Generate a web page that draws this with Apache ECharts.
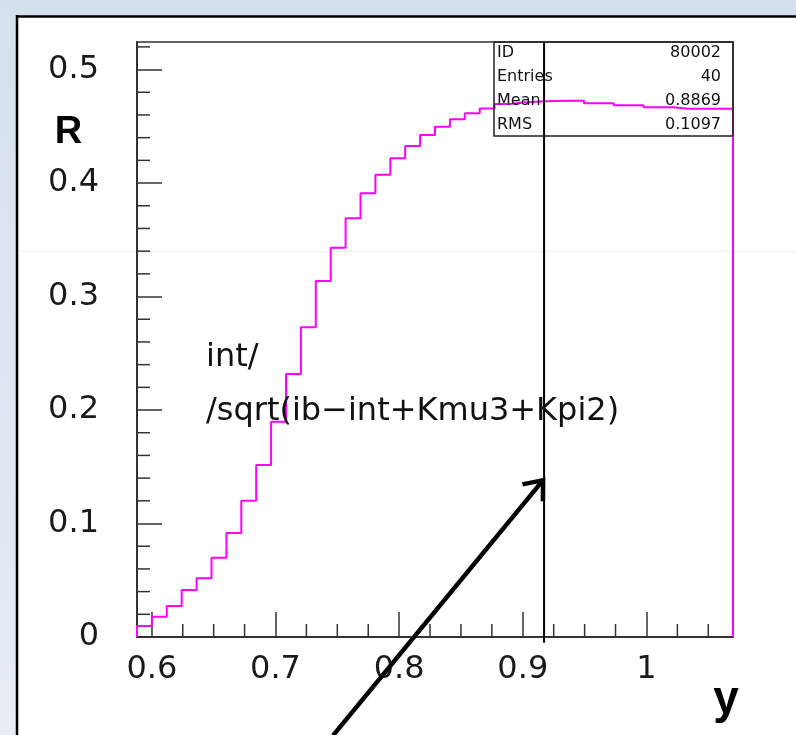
<!DOCTYPE html>
<html><head><meta charset="utf-8">
<script src="https://cdn.jsdelivr.net/npm/echarts@6/dist/echarts.min.js"></script>
<style>html,body{margin:0;padding:0;background:#fff;}#c{width:796px;height:735px;}</style>
</head><body><div id="c"></div>
<script>
// ---- data ----
const xLo = 0.588, xHi = 1.07;
const binValues = [
  0.0097, 0.0179, 0.0273, 0.0414, 0.0517, 0.0699, 0.0916, 0.1201, 0.1516, 0.1897,
  0.2317, 0.2729, 0.3137, 0.3430, 0.3689, 0.3910, 0.4073, 0.4218, 0.4326, 0.4423,
  0.4496, 0.4562, 0.4615, 0.4658, 0.4697, 0.4710, 0.4718, 0.4723, 0.4726, 0.4726,
  0.4703, 0.4703, 0.4685, 0.4685, 0.4667, 0.4667, 0.4655, 0.4655, 0.4655, 0.4655
];
const yMin = 0, yMax = 0.5243;
const xMajorTicks = [0.6, 0.7, 0.8, 0.9, 1.0];
const xTickLabels = ['0.6', '0.7', '0.8', '0.9', '1'];
const xMinorTicks = [0.625, 0.65, 0.675, 0.725, 0.75, 0.775, 0.825, 0.85, 0.875, 0.925, 0.95, 0.975, 1.025, 1.05];
const yMajorTicks = [0, 0.1, 0.2, 0.3, 0.4, 0.5];
const yTickLabels = ['0', '0.1', '0.2', '0.3', '0.4', '0.5'];
const yMinorTicks = [0.02, 0.04, 0.06, 0.08, 0.12, 0.14, 0.16, 0.18, 0.22, 0.24, 0.26, 0.28,
  0.32, 0.34, 0.36, 0.38, 0.42, 0.44, 0.46, 0.48, 0.52];
const cutValue = 0.9172;
const cutBottom = -0.005;
const arrowTail = [0.7466, -0.0867];
const arrowHead = [0.9164, 0.1382];
const statNames = ['ID', 'Entries', 'Mean', 'RMS'];
const statValues = ['80002', '40', '0.8869', '0.1097'];
const noteLines = ['int/', '/sqrt(ib\u2212int+Kmu3+Kpi2)'];
const yTitle = 'R', xTitle = 'y';

// ---- build ----
const binW = (xHi - xLo) / binValues.length;
const histPoints = [[xLo, 0]];
binValues.forEach((v, i) => histPoints.push([xLo + i * binW, v]));
histPoints.push([xHi, binValues[binValues.length - 1]]);
histPoints.push([xHi, 0]);

function lookup(ticks, labels) {
  return function (v) {
    const i = ticks.findIndex(t => Math.abs(t - v) < 1e-9);
    return i >= 0 ? labels[i] : '';
  };
}
const FONT = '"DejaVu Sans", sans-serif';
const TICK = { color: '#333', width: 1.5 };

const chart = echarts.init(document.getElementById('c'), null, { renderer: 'canvas' });

const graphicEls = [
  { type: 'rect', z: -100, shape: { x: 0, y: 0, width: 796, height: 735 },
    style: { fill: { type: 'linear', x: 0, y: 0, x2: 0, y2: 1,
      colorStops: [{ offset: 0, color: '#d6e0ed' }, { offset: 0.75, color: '#e2e9f3' }, { offset: 1, color: '#e9eef6' }] } } },
  { type: 'rect', z: -99, shape: { x: 17, y: 16, width: 779, height: 719 }, style: { fill: '#ffffff' } },
  { type: 'line', z: -98, shape: { x1: 16, y1: 16.5, x2: 796, y2: 16.5 }, style: { stroke: '#000', lineWidth: 2.5 } },
  { type: 'line', z: -98, shape: { x1: 17, y1: 15, x2: 17, y2: 735 }, style: { stroke: '#000', lineWidth: 2.5 } },
  { type: 'line', z: -97, shape: { x1: 19, y1: 251.5, x2: 796, y2: 251.5 }, style: { stroke: '#eeeeee', lineWidth: 1 } },
  // stats box
  { type: 'rect', z: 50, shape: { x: 494, y: 42, width: 239, height: 94 },
    style: { fill: 'none', stroke: '#222', lineWidth: 1.5 } },
  // axis titles
  { type: 'text', z: 50, x: 68.5, y: 133, style: { text: yTitle, font: 'bold 38px "Liberation Sans", Arial, sans-serif', fill: '#000', align: 'center', verticalAlign: 'middle' } },
  { type: 'text', z: 50, x: 726, y: 700, style: { text: xTitle, font: 'bold 46px "Liberation Sans", Arial, sans-serif', fill: '#000', align: 'center', verticalAlign: 'middle' } },
  // note text
  { type: 'text', z: 50, x: 206, y: 358, style: { text: noteLines[0], font: '32px ' + FONT, fill: '#111', align: 'left', verticalAlign: 'middle' } },
  { type: 'text', z: 50, x: 206, y: 412, style: { text: noteLines[1], font: '32px ' + FONT, fill: '#111', align: 'left', verticalAlign: 'middle' } }
];
statNames.forEach((n, i) => {
  const yy = 52.5 + i * 24.2;
  graphicEls.push({ type: 'text', z: 51, x: 497, y: yy, style: { text: n, font: '16px ' + FONT, fill: '#111', align: 'left', verticalAlign: 'middle' } });
  graphicEls.push({ type: 'text', z: 51, x: 721, y: yy, style: { text: statValues[i], font: '16px ' + FONT, fill: '#111', align: 'right', verticalAlign: 'middle' } });
});

const option = {
  animation: false,
  graphic: { elements: graphicEls },
  grid: { left: 137, right: 63, top: 42, bottom: 98, show: true, borderColor: '#333', borderWidth: 1.5, backgroundColor: 'transparent' },
  xAxis: {
    type: 'value', min: xLo, max: xHi,
    axisLine: { show: true, onZero: false, lineStyle: { color: '#333', width: 2 } },
    axisTick: { show: true, inside: true, length: 25, customValues: xMajorTicks, lineStyle: TICK },
    axisLabel: { show: true, customValues: xMajorTicks, formatter: lookup(xMajorTicks, xTickLabels),
      margin: 17, fontFamily: 'DejaVu Sans', fontSize: 32, color: '#1a1a1a' },
    splitLine: { show: false }, minorTick: { show: false }
  },
  yAxis: {
    type: 'value', min: yMin, max: yMax,
    axisLine: { show: true, onZero: false, lineStyle: { color: '#333', width: 2 } },
    axisTick: { show: true, inside: true, length: 25, customValues: yMajorTicks, lineStyle: TICK },
    axisLabel: { show: true, customValues: yMajorTicks, formatter: lookup(yMajorTicks, yTickLabels),
      margin: 38, fontFamily: 'DejaVu Sans', fontSize: 32, color: '#1a1a1a' },
    splitLine: { show: false }, minorTick: { show: false }
  },
  series: [
    {
      type: 'custom', name: 'xminor', clip: false, silent: true, z: 1,
      data: xMinorTicks.map(v => [v, yMin]),
      encode: { x: 0, y: 1 },
      renderItem: function (params, api) {
        const p = api.coord([api.value(0), api.value(1)]);
        return { type: 'line', shape: { x1: p[0], y1: p[1], x2: p[0], y2: p[1] - 13 }, style: { stroke: '#333', lineWidth: 1.5 } };
      }
    },
    {
      type: 'custom', name: 'yminor', clip: false, silent: true, z: 1,
      data: yMinorTicks.map(v => [xLo, v]),
      encode: { x: 0, y: 1 },
      renderItem: function (params, api) {
        const p = api.coord([api.value(0), api.value(1)]);
        return { type: 'line', shape: { x1: p[0], y1: p[1], x2: p[0] + 13, y2: p[1] }, style: { stroke: '#333', lineWidth: 1.5 } };
      }
    },
    {
      type: 'line', name: 'hist', step: 'end', data: histPoints, symbol: 'none', clip: false, z: 3,
      lineStyle: { color: '#ff00ff', width: 2 }, silent: true
    },
    {
      type: 'line', name: 'cut', data: [[cutValue, cutBottom], [cutValue, yMax]], symbol: 'none', clip: false, z: 4,
      lineStyle: { color: '#000', width: 2 }, silent: true
    },
    {
      type: 'custom', name: 'arrow', clip: false, silent: true, z: 5,
      data: [[arrowTail[0], arrowTail[1], arrowHead[0], arrowHead[1]]],
      encode: { x: [0, 2], y: [1, 3] },
      renderItem: function (params, api) {
        const a = api.coord([api.value(0), api.value(1)]);
        const b = api.coord([api.value(2), api.value(3)]);
        const ang = Math.atan2(b[1] - a[1], b[0] - a[0]);
        const L = 21, spread = 0.68;
        const p1 = [b[0] - L * Math.cos(ang - spread), b[1] - L * Math.sin(ang - spread)];
        const p2 = [b[0] - L * Math.cos(ang + spread), b[1] - L * Math.sin(ang + spread)];
        return { type: 'group', children: [
          { type: 'line', shape: { x1: a[0], y1: a[1], x2: b[0], y2: b[1] }, style: { stroke: '#000', lineWidth: 4.5 } },
          { type: 'polyline', shape: { points: [p1, b, p2] }, style: { stroke: '#000', lineWidth: 4.5, fill: 'none', lineJoin: 'miter' } }
        ] };
      }
    }
  ]
};
chart.setOption(option);
</script>
</body></html>
